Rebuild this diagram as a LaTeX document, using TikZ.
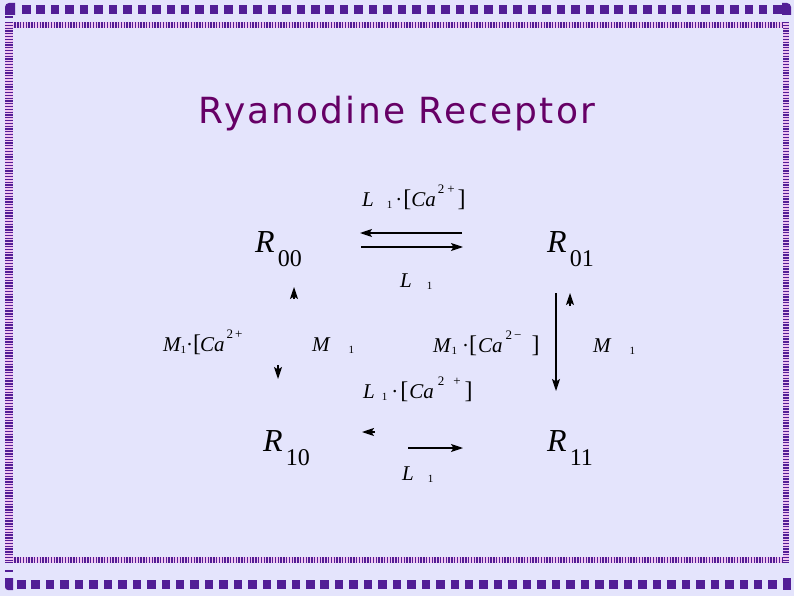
\documentclass[tikz,border=0pt]{standalone}
\usepackage{fontspec}
\setmainfont{Liberation Serif}
\newfontfamily\titlefont[LetterSpace=6]{DejaVu Sans}
\usetikzlibrary{arrows.meta}
\definecolor{bgcol}{RGB}{228,228,252}
\definecolor{bord}{RGB}{82,30,150}
\definecolor{pinkbar}{RGB}{240,196,240}
\definecolor{titlecol}{RGB}{102,0,102}
\newcommand\Rl[1]{{\itshape R}\kern3pt\raisebox{-14pt}{\fontsize{24}{24}\selectfont #1}}
\newcommand\lsub[1]{\raisebox{-2.5pt}{\fontsize{11}{11}\selectfont #1}}
\newcommand\lsup[1]{\raisebox{13pt}{\fontsize{13}{13}\selectfont #1}}
\newcommand\bbr[1]{{\fontsize{24}{24}\selectfont #1}}
\newcommand\Ca{{\itshape Ca}}
\begin{document}
\begin{tikzpicture}[x=1pt,y=-1pt,
  rlab/.style={font=\fontsize{32}{32}\selectfont, anchor=base west, inner sep=0pt},
  klab/.style={font=\fontsize{21}{21}\selectfont, anchor=base west, inner sep=0pt},
  rarrow/.style={draw=black, line width=1.2pt, -{Stealth[length=12pt,width=8pt,inset=2.5pt]}},
  barh/.style={line width=6pt},
  bars/.style={draw=bord, dash pattern=on 1.3pt off 1.5pt}]
\useasboundingbox (0,0) rectangle (794,596);
\fill[bgcol] (0,0) rectangle (794,596);
% ---- border ----
\foreach \i in {0,...,52} \fill[bord] ({22+\i*14.45},5) rectangle ++(8.5,9.5);
\foreach \i in {0,...,52} \fill[bord] ({17+\i*14.45},580) rectangle ++(8.5,8.5);
\fill[bord] (5,15) [rounded corners=4pt]-- (5,3) [sharp corners]-- (15,3) -- (15,15) -- cycle;
\fill[bord] (782,15) -- (782,3) [rounded corners=4pt]-- (791,3) [sharp corners]-- (791,15) -- cycle;
\fill[bord] (5,578) -- (13,578) -- (13,590) [rounded corners=3pt]-- (5,590) [sharp corners]-- cycle;
\fill[bord] (783,578) -- (791,578) -- (791,590) -- (783,590) -- cycle;
\draw[bord, line width=1.5pt] (5,17) -- (13,17);
\draw[bord, line width=1.5pt] (5,571) -- (13,571);
\draw[pinkbar, barh] (6,25) -- (789,25);
\draw[bars, barh] (6,25) -- (789,25);
\draw[pinkbar, barh] (6,560) -- (789,560);
\draw[bars, barh] (6,560) -- (789,560);
\draw[pinkbar, line width=8pt] (9,22) -- (9,563);
\draw[bars, line width=8pt] (9,22) -- (9,563);
\draw[pinkbar, barh] (786,22) -- (786,563);
\draw[bars, barh] (786,22) -- (786,563);
% ---- title ----
\node[font=\titlefont\fontsize{36}{36}\selectfont, text=titlecol, anchor=base, inner sep=0pt] (title) at (397,124) {Ryanodine Receptor};
% ---- states ----
\node[rlab] (r00) at (255,252) {\Rl{00}};
\node[rlab] (r01) at (547,252) {\Rl{01}};
\node[rlab] (r10) at (263,451) {\Rl{10}};
\node[rlab] (r11) at (547,451) {\Rl{11}};
% ---- rate labels ----
\node[klab] (ktop) at (362,206) {{\itshape L}\kern13pt\lsub{1}\kern3pt·\kern1pt\bbr{[}\Ca\kern2pt\lsup{2\kern3pt+}\kern3pt\bbr{]}};
\node[klab] (ktopr) at (400,287) {{\itshape L}\kern15pt\lsub{1}};
\node[klab] (kbot) at (363,398) {{\itshape L}\kern7pt\lsub{1}\kern4pt·\kern2pt\bbr{[}\kern1pt\Ca\kern4pt\lsup{2\kern9pt+}\kern4pt\bbr{]}};
\node[klab] (kbotr) at (402,480) {{\itshape L}\kern14pt\lsub{1}};
\node[klab] (kleft) at (163,351) {{\itshape M}\lsub{1}·\bbr{[}\kern-1pt\Ca\kern2pt\lsup{2\kern2pt+}};
\node[klab] (kleftr) at (312,351) {{\itshape M}\kern19pt\lsub{1}};
\node[klab] (kright) at (433,352) {{\itshape M}\kern1pt\lsub{1}\kern5pt·\bbr{[}\kern1pt\Ca\kern3pt\lsup{2\kern2pt−}\kern10pt\bbr{]}};
\node[klab] (krightr) at (593,352) {{\itshape M}\kern19pt\lsub{1}};
% ---- arrow end points ----
\coordinate (a1s) at (462,233); \coordinate (a1e) at (360,233);
\coordinate (a2s) at (361,247); \coordinate (a2e) at (463,247);
\coordinate (a3s) at (375,432); \coordinate (a3e) at (362,432);
\coordinate (a4s) at (408,448); \coordinate (a4e) at (463,448);
\coordinate (a5s) at (294,299); \coordinate (a5e) at (294,287);
\coordinate (a6s) at (278,365); \coordinate (a6e) at (278,379);
\coordinate (a7s) at (556,293); \coordinate (a7e) at (556,391);
\coordinate (a8s) at (570,306); \coordinate (a8e) at (570,293);
\draw[rarrow] (a1s) -- (a1e);
\draw[rarrow] (a2s) -- (a2e);
\draw[rarrow] (a3s) -- (a3e);
\draw[rarrow] (a4s) -- (a4e);
\draw[rarrow] (a5s) -- (a5e);
\draw[rarrow] (a6s) -- (a6e);
\draw[rarrow] (a7s) -- (a7e);
\draw[rarrow] (a8s) -- (a8e);
\end{tikzpicture}
\end{document}
